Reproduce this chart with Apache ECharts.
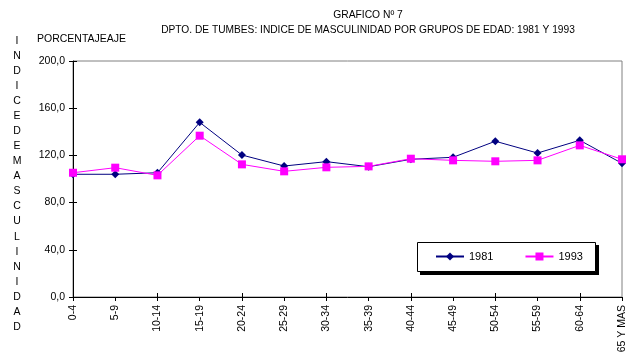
<!DOCTYPE html>
<html><head><meta charset="utf-8">
<script src="https://cdn.jsdelivr.net/npm/echarts@6/dist/echarts.min.js"></script>
<style>html,body{margin:0;padding:0;background:#fff}#c{width:638px;height:360px}</style>
</head><body><div id="c"></div>
<script>
var categories = ['0-4','5-9','10-14','15-19','20-24','25-29','30-34','35-39','40-44','45-49','50-54','55-59','60-64','65 Y MAS'];
var s1981 = [104.0,104.0,105.3,148.0,120.3,111.0,114.7,110.4,116.7,118.4,132.0,122.0,132.8,113.3];
var s1993 = [105.3,109.6,103.1,136.7,112.4,106.5,109.9,110.7,117.2,115.8,115.0,115.8,128.5,116.7];
var yTicks = [0,40,80,120,160,200];
var title1 = 'GRAFICO Nº 7';
var title2 = 'DPTO. DE TUMBES: INDICE DE MASCULINIDAD POR GRUPOS DE EDAD: 1981 Y 1993';
var yName = 'PORCENTAJEAJE';
var sideLetters = 'INDICEDEMASCULINIDAD'.split('');

var FONT = 'Liberation Sans';
var chart = echarts.init(document.getElementById('c'));
var graphics = [];
sideLetters.forEach(function(ch, i){
  graphics.push({type:'text', x: 17, y: 41 + i*15.05,
    style:{text: ch, font: '10.5px "'+FONT+'"', fill:'#000', align:'center', verticalAlign:'middle'}});
});
graphics.push({type:'text', left:37, top:34, style:{text:yName, font:'10.5px "'+FONT+'"', fill:'#000'}});
// legend frame with drop shadow
graphics.push({type:'rect', shape:{x:420, y:245, width:179, height:30}, style:{fill:'#000'}, z:10});
graphics.push({type:'rect', shape:{x:417.5, y:242.5, width:178, height:29}, style:{fill:'#fff', stroke:'#000', lineWidth:1}, z:11});
var common = {fontFamily: FONT, fontSize: 10.5, color: '#000'};
chart.setOption({
  animation:false,
  textStyle:{fontFamily:FONT},
  title:[
    {text:title1, left:368, top:10, textAlign:'center', padding:0, textStyle:{fontFamily:FONT,fontSize:10.3,fontWeight:'normal',color:'#000'}},
    {text:title2, left:368, top:25, textAlign:'center', padding:0, textStyle:{fontFamily:FONT,fontSize:10.2,fontWeight:'normal',color:'#000'}}
  ],
  graphic: graphics,
  grid:{left:73, right:16, top:61, bottom:63, show:true, borderColor:'#808080', borderWidth:1, containLabel:false},
  legend:{
    data:['1981','1993'], left:417, top:242, orient:'horizontal', z:20,
    padding:[9,18,8,18], itemGap:31, itemWidth:28, itemHeight:10,
    textStyle:{fontFamily:FONT, fontSize:11, color:'#000'}
  },
  xAxis:[{
    type:'category', data:categories, boundaryGap:false,
    axisLine:{lineStyle:{color:'#000',width:1}},
    axisTick:{alignWithLabel:true, length:4, lineStyle:{color:'#000'}},
    axisLabel:Object.assign({rotate:90, margin:8, interval:0}, common),
    splitLine:{show:false}
  },{
    type:'category', data:categories, boundaryGap:false, position:'bottom',
    axisLine:{show:false}, axisLabel:{show:false},
    axisTick:{inside:true, length:4, lineStyle:{color:'#000'}}, splitLine:{show:false}
  }],
  yAxis:[{
    type:'value', min:0, max:200, interval:40,
    axisLine:{show:true, lineStyle:{color:'#000',width:1}},
    axisTick:{show:true, length:4, lineStyle:{color:'#000'}},
    axisLabel:Object.assign({margin:8, formatter:function(v){return v.toFixed(1).replace('.',',');}}, common),
    splitLine:{show:false}
  },{
    type:'value', min:0, max:200, interval:40, position:'left',
    axisLine:{show:false}, axisLabel:{show:false},
    axisTick:{show:true, inside:true, length:4, lineStyle:{color:'#000'}}, splitLine:{show:false}
  }],
  series:[
    {name:'1981', type:'line', data:s1981, symbol:'diamond', symbolSize:8,
      lineStyle:{color:'#000080', width:1}, itemStyle:{color:'#000080'}, z:3},
    {name:'1993', type:'line', data:s1993, symbol:'rect', symbolSize:8,
      lineStyle:{color:'#FF00FF', width:1}, itemStyle:{color:'#FF00FF'}, z:4}
  ]
});
</script></body></html>
